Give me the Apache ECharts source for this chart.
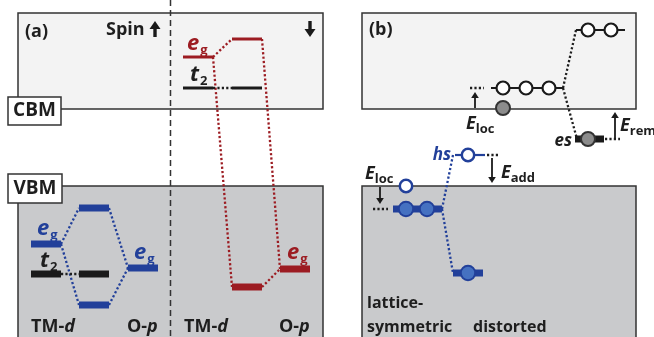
<!DOCTYPE html>
<html><head><meta charset="utf-8">
<script src="https://cdn.jsdelivr.net/npm/echarts@6/dist/echarts.min.js"></script>
<style>html,body{margin:0;padding:0;background:#fff}#c{width:654px;height:337px}</style>
</head><body><div id="c"></div>
<script>
// ---- Data: horizontal position (diagram units) and energy (arbitrary units, up = higher) ----
// band regions [xStart, energyTop, xEnd, energyBottom, band]
const bandRegions = [
  [18, 324, 323, 228, 'cb'], [362, 324, 636, 228, 'cb'],
  [18, 151, 323, -5, 'vb'], [362, 151, 636, -5, 'vb']
];
// band-edge tags [xStart, energyTop, xEnd, energyBottom]
const bandTags = [[8, 240, 61, 212], [8, 163, 62, 134]];
const spinDivider = [170.5];
// (a) spin-up levels [xStart, xEnd, energy, orbital]
const spinUpLevels = [
  [31, 61, 93, 'eg'], [79, 109, 129, 'eg'], [79, 109, 32, 'eg'], [128, 158, 69, 'eg'],
  [31, 61, 63, 't2'], [79, 109, 63, 't2']
];
// (a) spin-down levels
const spinDownLevels = [
  [183, 213, 280, 'eg'], [232, 262, 298, 'eg'], [183, 213, 249, 't2'], [232, 262, 249, 't2'],
  [232, 262, 50, 'eg'], [280, 310, 68, 'eg']
];
// hybridisation links [x1, E1, x2, E2, orbital/spin]
const spinUpLinks = [
  [61, 93, 79, 129, 'up'], [61, 93, 79, 32, 'up'], [109, 129, 128, 69, 'up'], [109, 32, 128, 69, 'up'],
  [61, 63, 79, 63, 't2']
];
const spinDownLinks = [
  [213, 280, 232, 298, 'down'], [213, 280, 232, 50, 'down'], [262, 298, 280, 68, 'down'], [262, 50, 280, 68, 'down'],
  [213, 249, 232, 249, 't2']
];
// (b) defect level rows [xStart, xEnd, energy, kind]
const defectRows = [
  [576, 625, 307, 'empty'], [491, 563, 249, 'empty'], [575, 604, 198, 'es'],
  [455, 485, 182, 'hs'], [393, 442, 128, 'hole'], [453, 483, 64, 'hole']
];
// (b) states [x, energy, kind]
const defectStates = [
  [588, 307, 'empty'], [611, 307, 'empty'],
  [503, 249, 'empty'], [526, 249, 'empty'], [549, 249, 'empty'],
  [503, 229, 'electron'], [588, 198, 'electron'],
  [468, 182, 'holeOpen'], [406, 151, 'holeOpen'],
  [406, 128, 'holeFilled'], [427, 128, 'holeFilled'], [468, 64, 'holeFilled']
];
// (b) dotted links [x1, E1, x2, E2, kind]
const defectLinks = [
  [576, 307, 563, 249, 'ink'], [563, 249, 577, 198, 'ink'],
  [453, 182, 442, 128, 'blue'], [442, 128, 453, 64, 'blue'],
  [470, 249, 484, 249, 'ink'], [605, 198, 620, 198, 'ink'],
  [487, 182, 499, 182, 'ink'], [373, 128, 388, 128, 'ink']
];
// arrows [x, energyFrom, energyTo, weight]
const arrows = [
  [155, 300, 316, 'bold'], [310, 316, 300, 'bold'],
  [475, 229, 245, 'thin'], [615, 198, 225, 'thin'],
  [492, 179, 154, 'thin'], [380, 150, 133, 'thin']
];
// labels [text, x, energy, align, colour]
const labels = [
  ['{h|(a)}', 25, 305, 'left', 'ink'],
  ['{h|Spin}', 106, 307, 'left', 'ink'],
  ['{t|CBM}', 34.5, 226, 'center', 'ink'],
  ['{t|VBM}', 35, 148.5, 'center', 'ink'],
  ['{h|(b)}', 369, 307, 'left', 'ink'],
  ['{big|e}{s|g}', 187, 293, 'left', 'red'],
  ['{big|t}{s|2}', 190, 262, 'left', 'ink'],
  ['{big|e}{s|g}', 37, 108, 'left', 'blue'],
  ['{big|t}{s|2}', 40, 76, 'left', 'ink'],
  ['{big|e}{s|g}', 134, 84, 'left', 'blue'],
  ['{big|e}{s|g}', 287, 84, 'left', 'red'],
  ['{h|TM-}{hi|d}', 31, 10, 'left', 'ink'],
  ['{h|O-}{hi|p}', 127, 10, 'left', 'ink'],
  ['{h|TM-}{hi|d}', 184, 10, 'left', 'ink'],
  ['{h|O-}{hi|p}', 279, 10, 'left', 'ink'],
  ['{E|E}{sub|loc}', 466, 213, 'left', 'ink'],
  ['{i|es}', 572, 196, 'right', 'ink'],
  ['{E|E}{sub|rem}', 620, 211, 'left', 'ink'],
  ['{i|hs}', 451, 182, 'right', 'blue'],
  ['{E|E}{sub|add}', 501, 164, 'left', 'ink'],
  ['{E|E}{sub|loc}', 365, 163, 'left', 'ink'],
  ['{n|lattice-}', 367, 34, 'left', 'ink'],
  ['{n|symmetric}', 367, 10, 'left', 'ink'],
  ['{n|distorted}', 473, 10, 'left', 'ink']
];

// ---- Styling ----
const F = '"Open Sans", "Noto Sans", sans-serif';
const BLUE = '#22409a', RED = '#9c1c22', INK = '#1e1e1e', FILLBLUE = '#4571c1';
const COL = { ink: INK, red: RED, blue: BLUE, up: BLUE, down: RED, t2: INK };
const rich = {
  n: { fontSize: 16, fontWeight: 'bold', fontFamily: F },
  h: { fontSize: 18, fontWeight: 'bold', fontFamily: F },
  hi: { fontSize: 18, fontWeight: 'bold', fontStyle: 'italic', fontFamily: F },
  i: { fontSize: 17, fontWeight: 'bold', fontStyle: 'italic', fontFamily: F },
  t: { fontSize: 19, fontWeight: 'bold', fontFamily: F },
  big: { fontSize: 22, fontWeight: 'bold', fontStyle: 'italic', fontFamily: F },
  s: { fontSize: 13, fontWeight: 'bold', fontFamily: F, padding: [12, 0, 0, 1] },
  E: { fontSize: 18, fontWeight: 'bold', fontStyle: 'italic', fontFamily: F },
  sub: { fontSize: 13, fontWeight: 'bold', fontFamily: F, padding: [10, 0, 0, 0] }
};

const chart = echarts.init(document.getElementById('c'), null, { renderer: 'canvas' });
function P(api, x, e) { return api.coord([x, e]); }
function custom(data, z, fn) {
  return { type: 'custom', coordinateSystem: 'cartesian2d', z: z, silent: true, animation: false,
    data: data.map(function (d) { return [0, 0]; }),
    renderItem: function (p, api) { return fn(data[p.dataIndex], api); } };
}
function lineEl(api, x1, e1, x2, e2, style) {
  const a = P(api, x1, e1), b = P(api, x2, e2);
  return { type: 'line', shape: { x1: a[0], y1: a[1], x2: b[0], y2: b[1] }, style: style };
}

const series = [
  custom(bandRegions, 1, function (d, api) {
    const a = P(api, d[0], d[1]), b = P(api, d[2], d[3]);
    return { type: 'rect', shape: { x: a[0], y: a[1], width: b[0] - a[0], height: b[1] - a[1] },
      style: { fill: d[4] === 'cb' ? '#f3f3f3' : '#c9cacc', stroke: '#333', lineWidth: 1.5 } };
  }),
  custom(spinDivider, 2, function (d, api) {
    return lineEl(api, d, 337, d, 0, { stroke: '#333', lineWidth: 1.5, lineDash: [6, 4] });
  }),
  custom(bandTags, 3, function (d, api) {
    const a = P(api, d[0], d[1]), b = P(api, d[2], d[3]);
    return { type: 'rect', shape: { x: a[0], y: a[1], width: b[0] - a[0], height: b[1] - a[1] },
      style: { fill: '#fff', stroke: '#333', lineWidth: 1.5 } };
  }),
  custom(spinUpLinks.concat(spinDownLinks), 4, function (d, api) {
    return lineEl(api, d[0], d[1], d[2], d[3], { stroke: COL[d[4]], lineWidth: 2.3, lineDash: [2.2, 2.2] });
  }),
  custom(defectLinks, 4, function (d, api) {
    return lineEl(api, d[0], d[1], d[2], d[3], { stroke: COL[d[4]], lineWidth: 2.3, lineDash: [2.2, 2.2] });
  }),
  custom(spinUpLevels, 5, function (d, api) {
    return lineEl(api, d[0], d[2], d[1], d[2], { stroke: d[3] === 't2' ? '#1a1a1a' : BLUE, lineWidth: d[2] < 151 ? 7 : 3 });
  }),
  custom(spinDownLevels, 5, function (d, api) {
    return lineEl(api, d[0], d[2], d[1], d[2], { stroke: d[3] === 't2' ? '#1a1a1a' : RED, lineWidth: d[2] < 151 ? 7 : 3 });
  }),
  custom(defectRows, 5, function (d, api) {
    const st = { empty: ['#1a1a1a', 2.2], es: ['#1a1a1a', 7], hs: [BLUE, 2.2], hole: [BLUE, 7] }[d[3]];
    return lineEl(api, d[0], d[2], d[1], d[2], { stroke: st[0], lineWidth: st[1] });
  }),
  custom(defectStates, 6, function (d, api) {
    const c = P(api, d[0], d[1]);
    const st = {
      empty: ['#fff', '#1a1a1a', 2.2, 6.5], electron: ['#8c8c8c', '#333', 2, 7],
      holeOpen: ['#fff', BLUE, 2.5, 6.2], holeFilled: [FILLBLUE, BLUE, 2, 7.2]
    }[d[2]];
    return { type: 'circle', shape: { cx: c[0], cy: c[1], r: st[3] }, style: { fill: st[0], stroke: st[1], lineWidth: st[2] } };
  }),
  custom(arrows, 7, function (d, api) {
    const bold = d[3] === 'bold';
    const a = P(api, d[0], d[1]), b = P(api, d[0], d[2]);
    const dir = b[1] > a[1] ? 1 : -1;
    const hl = bold ? 8 : 6, hw = bold ? 5.5 : 3.8;
    return { type: 'group', children: [
      { type: 'line', shape: { x1: a[0], y1: a[1], x2: b[0], y2: b[1] - dir * (hl - 1) }, style: { stroke: '#1a1a1a', lineWidth: bold ? 3.4 : 1.8 } },
      { type: 'polygon', shape: { points: [[b[0], b[1]], [b[0] - hw, b[1] - dir * hl], [b[0] + hw, b[1] - dir * hl]] }, style: { fill: '#1a1a1a' } }
    ] };
  }),
  custom(labels, 8, function (d, api) {
    const c = P(api, d[1], d[2]);
    return { type: 'text', x: c[0], y: c[1],
      style: { text: d[0], rich: rich, fill: COL[d[4]], align: d[3], verticalAlign: 'middle' } };
  })
];

chart.setOption({
  animation: false,
  grid: { left: 0, right: 0, top: 0, bottom: 0 },
  xAxis: { type: 'value', min: 0, max: 654, show: false },
  yAxis: { type: 'value', min: 0, max: 337, show: false },
  series: series
});
</script></body></html>
